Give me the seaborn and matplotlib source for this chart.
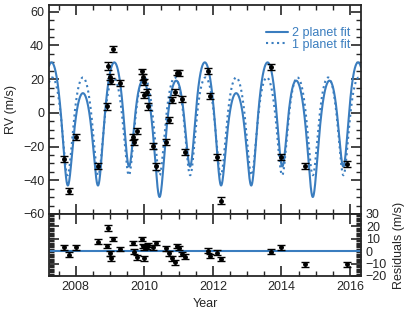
import numpy as np
import pandas as pd
import matplotlib
matplotlib.use("Agg")
import matplotlib.pyplot as plt
import seaborn as sns
from matplotlib.ticker import MultipleLocator

# Observations: decimal year, RV (m/s), error (m/s), residual after 2 planet fit (m/s)
obs_year = [2007.659, 2007.813, 2008.000, 2008.659, 2008.904, 2008.927, 2009.000, 2009.038,
            2009.097, 2009.283, 2009.679, 2009.708, 2009.779, 2009.925, 2009.971, 2010.000,
            2010.000, 2010.070, 2010.117, 2010.263, 2010.333, 2010.625, 2010.721, 2010.817,
            2010.896, 2010.945, 2010.998, 2011.109, 2011.196, 2011.867, 2011.902, 2012.112,
            2012.237, 2013.687, 2013.987, 2014.687, 2015.903]
obs_rv = [-27.2, -46.1, -14.2, -31.6, 3.8, 27.9, 21.4, 19.0,
          38.0, 17.5, -14.4, -17.4, -10.7, 24.6, 21.1, 18.3,
          10.4, 12.3, 3.8, -19.9, -31.8, -17.4, -4.5, 7.4,
          12.3, 23.9, 23.6, 8.4, -23.3, 24.6, 10.0, -26.3,
          -52.0, 27.2, -26.3, -31.6, -30.6]
obs_err = [1.8, 1.8, 1.8, 1.8, 1.8, 2.3, 1.8, 1.8,
           1.6, 1.8, 1.8, 1.8, 1.8, 1.6, 1.8, 1.8,
           1.8, 1.8, 1.8, 1.8, 1.8, 1.8, 1.8, 1.8,
           1.8, 1.7, 1.7, 1.8, 1.8, 1.8, 1.8, 1.8,
           1.8, 1.8, 1.8, 1.8, 1.8]
obs_resid = [3.1, -2.8, 3.1, 7.7, 4.4, 18.7, -1.7, -5.7,
             9.8, 1.8, 6.6, -0.4, -4.9, 9.8, 4.4, 3.1,
             -5.7, 3.6, 5.2, 3.1, 6.4, 2.3, -1.7, -5.7,
             -9.0, 4.4, 2.6, -2.3, -4.4, 0.4, -3.9, -1.2,
             -6.5, -0.4, 3.1, -10.6, -10.6]

# Fit parameters
P_b, Tp_b, e_b, K_b, w_b = 0.894, 2007.762, 0.2, 30.8, np.pi
gamma_2p = -2.94
P_c, Tmax_c, K_c = 2.235, 2007.092, 10.0
K_1p, e_1p, gamma_1p = 29.0, 0.2, -2.2

line_color = "#3a7dbf"


def kepler_rv(t, P, Tp, e, K, w):
    M = 2 * np.pi * (t - Tp) / P
    E = M.copy()
    for _ in range(40):
        E = E - (E - e * np.sin(E) - M) / (1 - e * np.cos(E))
    nu = 2 * np.arctan2(np.sqrt(1 + e) * np.sin(E / 2), np.sqrt(1 - e) * np.cos(E / 2))
    return K * (np.cos(nu + w) + e * np.cos(w))


t = np.linspace(2007.22, 2016.32, 3000)
fit2 = gamma_2p + kepler_rv(t, P_b, Tp_b, e_b, K_b, w_b) + K_c * np.cos(2 * np.pi * (t - Tmax_c) / P_c)
fit1 = gamma_1p + kepler_rv(t, P_b, Tp_b, e_1p, K_1p, w_b)
curves = pd.DataFrame({"year": t, "fit2": fit2, "fit1": fit1})

sns.set_style("ticks")
plt.rcParams["font.family"] = ["Liberation Sans", "DejaVu Sans"]
plt.rcParams["font.size"] = 9
plt.rcParams["axes.linewidth"] = 1.3

fig = plt.figure(figsize=(4.15, 3.12), dpi=100)
ax1 = fig.add_axes([49 / 415, 1 - 214 / 312, 312 / 415, 209 / 312])
ax2 = fig.add_axes([49 / 415, 1 - 276 / 312, 312 / 415, 62 / 312], sharex=ax1)

sns.lineplot(data=curves, x="year", y="fit2", ax=ax1, color=line_color, lw=1.5, label="2 planet fit")
sns.lineplot(data=curves, x="year", y="fit1", ax=ax1, color=line_color, lw=1.5, ls=":", label="1 planet fit")
ax1.errorbar(obs_year, obs_rv, yerr=obs_err, fmt="o", ms=2.5, color="black",
             ecolor="black", elinewidth=1, capsize=3, capthick=1, zorder=5)

ax2.axhline(0, color=line_color, lw=1.5)
ax2.errorbar(obs_year, obs_resid, yerr=obs_err, fmt="o", ms=2.5, color="black",
             ecolor="black", elinewidth=1, capsize=3, capthick=1, zorder=5)

ax1.set_xlim(2007.22, 2016.32)
ax1.set_ylim(-60, 64)
ax2.set_ylim(-20, 30)

ax1.set_ylabel("RV (m/s)")
ax1.set_xlabel("")
ax2.set_xlabel("Year")
ax2.set_ylabel("Residuals (m/s)")
ax2.yaxis.set_label_position("right")

ax1.xaxis.set_major_locator(MultipleLocator(2))
ax1.xaxis.set_minor_locator(MultipleLocator(0.5))
ax1.yaxis.set_major_locator(MultipleLocator(20))
ax1.yaxis.set_minor_locator(MultipleLocator(5))
ax2.yaxis.set_major_locator(MultipleLocator(10))
ax2.yaxis.set_minor_locator(MultipleLocator(1))

for ax in (ax1, ax2):
    ax.tick_params(which="both", direction="in", top=True, right=True, bottom=True, left=True)
    ax.tick_params(which="major", length=7, width=1.2)
    ax.tick_params(which="minor", length=3.5, width=1)
ax1.tick_params(labelbottom=False)
ax2.tick_params(axis="y", labelleft=False, labelright=True)

leg = ax1.legend(loc="upper right", bbox_to_anchor=(0.99, 0.93), frameon=False,
                 handlelength=1.8, handletextpad=0.3, labelspacing=-0.05, borderaxespad=0.2)
for txt in leg.get_texts():
    txt.set_color(line_color)

fig.savefig("out.png", dpi=100)
